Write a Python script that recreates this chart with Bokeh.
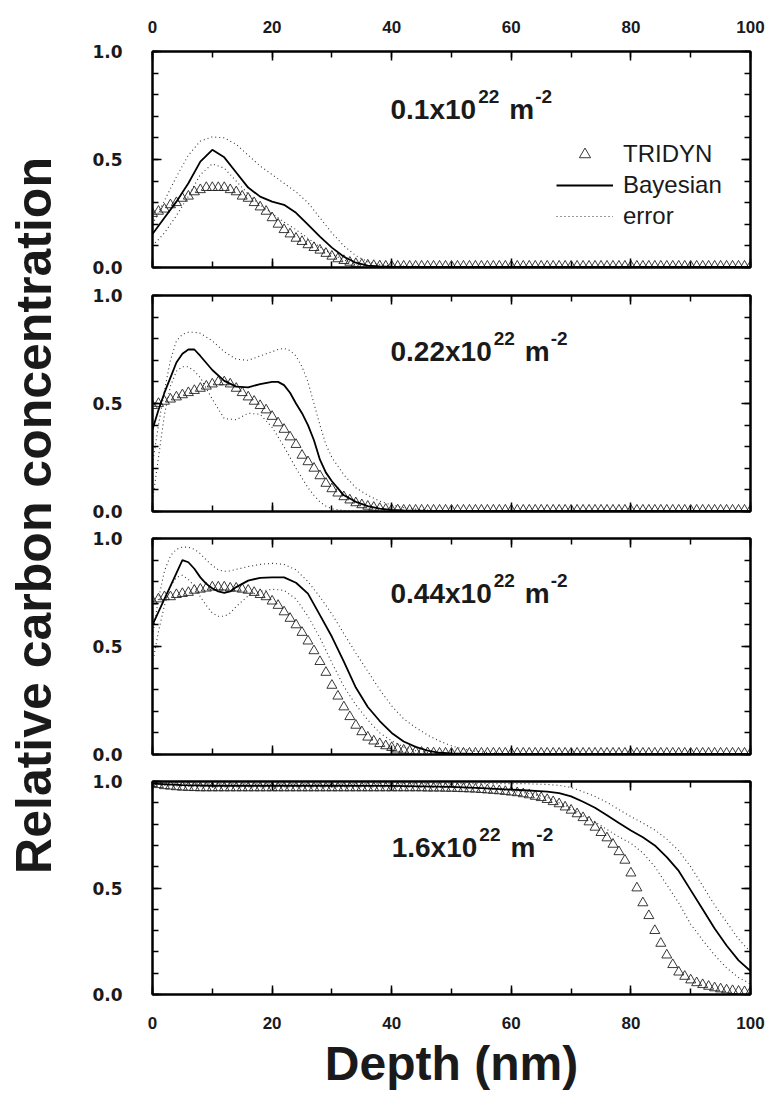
from math import pi
from bokeh.plotting import figure
from bokeh.layouts import row, column
from bokeh.models import (Range1d, LinearAxis, SingleIntervalTicker, PrintfTickFormatter,
                          Label, Legend, LegendItem)
from bokeh.embed import file_html
from bokeh.resources import INLINE

# ---------------- data ----------------
tridyn_depth = list(range(0, 101))  # nm

tridyn_01 = [0.25, 0.26, 0.27, 0.29, 0.30, 0.32, 0.33, 0.35, 0.36, 0.37,
             0.37, 0.37, 0.37, 0.36, 0.35, 0.33, 0.32, 0.30, 0.28, 0.26,
             0.23, 0.20, 0.175, 0.155, 0.135, 0.12, 0.105, 0.092, 0.08, 0.065,
             0.052, 0.040, 0.032, 0.024, 0.018, 0.014, 0.011, 0.009, 0.007, 0.006,
             0.006, 0.006, 0.006, 0.006, 0.006, 0.006, 0.006, 0.006, 0.006, 0.006,
             0.006, 0.006, 0.006, 0.006, 0.006, 0.006, 0.006, 0.006, 0.006, 0.006,
             0.006, 0.006, 0.006, 0.006, 0.006, 0.006, 0.006, 0.006, 0.006, 0.006,
             0.006, 0.006, 0.006, 0.006, 0.006, 0.006, 0.006, 0.006, 0.006, 0.006,
             0.006, 0.006, 0.006, 0.006, 0.006, 0.006, 0.006, 0.006, 0.006, 0.006,
             0.006, 0.006, 0.006, 0.006, 0.006, 0.006, 0.006, 0.006, 0.006, 0.006,
             0.006]

tridyn_02 = [0.49, 0.50, 0.51, 0.52, 0.53, 0.54, 0.55, 0.56, 0.57, 0.58,
             0.59, 0.60, 0.60, 0.59, 0.57, 0.55, 0.53, 0.51, 0.49, 0.47,
             0.44, 0.41, 0.38, 0.345, 0.31, 0.26, 0.23, 0.20, 0.165, 0.13,
             0.105, 0.085, 0.068, 0.053, 0.040, 0.031, 0.024, 0.019, 0.014, 0.010,
             0.008, 0.007, 0.006, 0.006, 0.006, 0.006, 0.006, 0.006, 0.006, 0.006,
             0.006, 0.006, 0.006, 0.006, 0.006, 0.006, 0.006, 0.006, 0.006, 0.006,
             0.006, 0.006, 0.006, 0.006, 0.006, 0.006, 0.006, 0.006, 0.006, 0.006,
             0.006, 0.006, 0.006, 0.006, 0.006, 0.006, 0.006, 0.006, 0.006, 0.006,
             0.006, 0.006, 0.006, 0.006, 0.006, 0.006, 0.006, 0.006, 0.006, 0.006,
             0.006, 0.006, 0.006, 0.006, 0.006, 0.006, 0.006, 0.006, 0.006, 0.006,
             0.006]

tridyn_03 = [0.71, 0.72, 0.73, 0.73, 0.74, 0.745, 0.75, 0.76, 0.765, 0.77,
             0.775, 0.775, 0.775, 0.77, 0.77, 0.765, 0.76, 0.75, 0.74, 0.73,
             0.71, 0.69, 0.66, 0.63, 0.60, 0.565, 0.525, 0.48, 0.43, 0.38,
             0.32, 0.27, 0.22, 0.175, 0.135, 0.105, 0.08, 0.062, 0.05, 0.04,
             0.032, 0.025, 0.02, 0.016, 0.013, 0.010, 0.008, 0.007, 0.006, 0.006,
             0.006, 0.006, 0.006, 0.006, 0.006, 0.006, 0.006, 0.006, 0.006, 0.006,
             0.006, 0.006, 0.006, 0.006, 0.006, 0.006, 0.006, 0.006, 0.006, 0.006,
             0.006, 0.006, 0.006, 0.006, 0.006, 0.006, 0.006, 0.006, 0.006, 0.006,
             0.006, 0.006, 0.006, 0.006, 0.006, 0.006, 0.006, 0.006, 0.006, 0.006,
             0.006, 0.006, 0.006, 0.006, 0.006, 0.006, 0.006, 0.006, 0.006, 0.006,
             0.006]

tridyn_04 = [0.99, 0.985, 0.98, 0.978, 0.975, 0.973, 0.972, 0.971, 0.97, 0.97,
             0.97, 0.97, 0.97, 0.97, 0.97, 0.97, 0.97, 0.97, 0.97, 0.97,
             0.97, 0.97, 0.97, 0.97, 0.97, 0.97, 0.97, 0.97, 0.97, 0.97,
             0.97, 0.97, 0.97, 0.97, 0.97, 0.97, 0.97, 0.97, 0.97, 0.97,
             0.97, 0.97, 0.97, 0.97, 0.97, 0.97, 0.969, 0.969, 0.969, 0.968,
             0.968, 0.967, 0.966, 0.965, 0.964, 0.962, 0.96, 0.958, 0.956, 0.953,
             0.95, 0.947, 0.942, 0.937, 0.93, 0.924, 0.915, 0.905, 0.895, 0.88,
             0.865, 0.848, 0.83, 0.81, 0.785, 0.76, 0.735, 0.705, 0.67, 0.63,
             0.57, 0.50, 0.43, 0.37, 0.30, 0.24, 0.185, 0.14, 0.105, 0.085,
             0.068, 0.055, 0.046, 0.038, 0.031, 0.026, 0.021, 0.018, 0.015, 0.013,
             0.012]

fit_depth_01 = [0, 2, 4, 6, 8, 10, 12, 14, 16, 18, 20, 22, 24, 26, 28, 30, 32, 34, 36, 38,
                40, 50, 60, 70, 80, 90, 100]
bayes_01 = [0.155, 0.23, 0.305, 0.39, 0.49, 0.545, 0.51, 0.44, 0.37, 0.328, 0.305, 0.29,
            0.253, 0.198, 0.143, 0.092, 0.05, 0.022, 0.009, 0.005, 0.003, 0.003, 0.003,
            0.003, 0.003, 0.003, 0.003]
upper_01 = [0.2, 0.31, 0.42, 0.52, 0.585, 0.605, 0.6, 0.57, 0.52, 0.47, 0.43, 0.39,
            0.35, 0.3, 0.23, 0.16, 0.1, 0.055, 0.027, 0.013, 0.007, 0.003, 0.003,
            0.003, 0.003, 0.003, 0.003]
lower_01 = [0.1, 0.16, 0.24, 0.33, 0.43, 0.48, 0.46, 0.40, 0.34, 0.29, 0.25, 0.21,
            0.175, 0.135, 0.095, 0.062, 0.035, 0.017, 0.008, 0.004, 0.002, 0.002, 0.002,
            0.002, 0.002, 0.002, 0.002]

fit_depth_02 = [0, 1, 2, 3, 4, 5, 6, 7, 8, 10, 12, 14, 16, 18, 20, 21, 22, 23, 24, 25,
                26, 27, 28, 29, 30, 32, 34, 36, 38, 40, 42, 44, 46, 48, 50, 60, 70, 80,
                90, 100]
bayes_02 = [0.38, 0.47, 0.55, 0.62, 0.69, 0.73, 0.75, 0.75, 0.72, 0.655, 0.605, 0.578,
            0.575, 0.59, 0.60, 0.60, 0.585, 0.55, 0.50, 0.455, 0.40, 0.33, 0.24, 0.18,
            0.14, 0.075, 0.045, 0.025, 0.013, 0.007, 0.005, 0.004, 0.003, 0.003, 0.003,
            0.003, 0.003, 0.003, 0.003, 0.003]
upper_02 = [0.22, 0.40, 0.56, 0.70, 0.79, 0.82, 0.83, 0.83, 0.825, 0.79, 0.74, 0.705,
            0.70, 0.72, 0.74, 0.75, 0.755, 0.745, 0.72, 0.67, 0.60, 0.50, 0.40, 0.31,
            0.25, 0.17, 0.11, 0.075, 0.048, 0.03, 0.018, 0.011, 0.007, 0.005, 0.004,
            0.004, 0.004, 0.004, 0.004, 0.004]
lower_02 = [0.05, 0.25, 0.45, 0.58, 0.65, 0.67, 0.67, 0.65, 0.62, 0.52, 0.43, 0.425,
            0.455, 0.45, 0.39, 0.345, 0.30, 0.25, 0.20, 0.155, 0.11, 0.075, 0.045, 0.025,
            0.012, 0.004, 0.002, 0.002, 0.002, 0.002, 0.002, 0.002, 0.002, 0.002, 0.002,
            0.002, 0.002, 0.002, 0.002, 0.002]

fit_depth_03 = [0, 1, 2, 3, 4, 5, 6, 7, 8, 9, 10, 11, 12, 13, 14, 16, 18, 20, 22, 24,
                26, 28, 30, 32, 34, 36, 38, 40, 42, 44, 46, 48, 50, 52, 54, 56, 58, 60,
                70, 80, 90, 100]
bayes_03 = [0.60, 0.66, 0.72, 0.78, 0.84, 0.90, 0.89, 0.86, 0.82, 0.79, 0.77, 0.755,
            0.748, 0.755, 0.775, 0.805, 0.818, 0.82, 0.82, 0.795, 0.745, 0.645, 0.545,
            0.43, 0.31, 0.22, 0.155, 0.10, 0.06, 0.035, 0.018, 0.008, 0.005, 0.004,
            0.003, 0.003, 0.003, 0.003, 0.003, 0.003, 0.003, 0.003]
upper_03 = [0.55, 0.72, 0.85, 0.92, 0.95, 0.96, 0.96, 0.95, 0.93, 0.90, 0.875, 0.855,
            0.848, 0.85, 0.857, 0.87, 0.88, 0.885, 0.88, 0.855, 0.80, 0.73, 0.65, 0.56,
            0.47, 0.385, 0.30, 0.225, 0.165, 0.125, 0.09, 0.062, 0.04, 0.025, 0.015,
            0.009, 0.006, 0.004, 0.004, 0.004, 0.004, 0.004]
lower_03 = [0.42, 0.57, 0.69, 0.78, 0.82, 0.83, 0.81, 0.78, 0.73, 0.69, 0.655, 0.64,
            0.64, 0.655, 0.685, 0.735, 0.755, 0.765, 0.76, 0.72, 0.64, 0.54, 0.425,
            0.315, 0.23, 0.16, 0.10, 0.063, 0.035, 0.018, 0.009, 0.005, 0.003, 0.003,
            0.003, 0.003, 0.003, 0.003, 0.003, 0.003, 0.003, 0.003]

fit_depth_04 = [0, 5, 10, 20, 30, 40, 50, 55, 60, 62, 64, 66, 68, 70, 72, 74, 76, 78,
                80, 82, 84, 86, 88, 90, 92, 94, 96, 98, 100]
bayes_04 = [0.99, 0.983, 0.98, 0.98, 0.98, 0.979, 0.975, 0.969, 0.962, 0.959, 0.956,
            0.952, 0.945, 0.93, 0.905, 0.877, 0.842, 0.805, 0.77, 0.738, 0.70, 0.645,
            0.58, 0.49, 0.40, 0.31, 0.23, 0.16, 0.11]
upper_04 = [0.995, 0.99, 0.99, 0.99, 0.99, 0.99, 0.99, 0.99, 0.99, 0.99, 0.988, 0.986,
            0.982, 0.972, 0.952, 0.93, 0.902, 0.868, 0.835, 0.805, 0.772, 0.73, 0.675,
            0.60, 0.51, 0.42, 0.34, 0.26, 0.20]
lower_04 = [0.985, 0.977, 0.975, 0.975, 0.975, 0.974, 0.972, 0.967, 0.955, 0.948, 0.938,
            0.925, 0.90, 0.875, 0.84, 0.81, 0.775, 0.74, 0.71, 0.665, 0.60, 0.515, 0.43,
            0.33, 0.255, 0.185, 0.125, 0.08, 0.05]

fluence_mantissa = ["0.1x10", "0.22x10", "0.44x10", "1.6x10"]
fluence_exponent = "22"
unit_base = "m"
unit_exponent = "-2"
legend_labels = ["TRIDYN", "Bayesian", "error"]
x_label = "Depth (nm)"
y_label = "Relative carbon concentration"

panels = [
    (tridyn_01, fit_depth_01, bayes_01, upper_01, lower_01),
    (tridyn_02, fit_depth_02, bayes_02, upper_02, lower_02),
    (tridyn_03, fit_depth_03, bayes_03, upper_03, lower_03),
    (tridyn_04, fit_depth_04, bayes_04, upper_04, lower_04),
]

# ---------------- layout / style ----------------
FONT = "Liberation Sans"
YTICK_FONT = "DejaVu Sans"
LAB_W = 76
PANEL_W = 690
BORDER_L, BORDER_R = 76, 16
FRAME_H = 216
heights = [281, 243, 243, 325]
borders_top = [51, 14, 14, 14]
TOTAL_H = sum(heights)
ann_pos = [(39.8, 0.731), (39.8, 0.740), (39.8, 0.745), (40.0, 0.69)]

BOLD_W = {'0': .556, '1': .556, '2': .556, '3': .556, '4': .556, '5': .556, '6': .556,
          '7': .556, '8': .556, '9': .556, '.': .278, 'x': .556, 'm': .889, '-': .333}


def tw(s, size):
    return sum(BOLD_W[c] for c in s) * size


def style_axis(ax, show_labels, is_x):
    ax.axis_line_width = 2
    ax.axis_line_color = "black"
    ax.major_tick_in = 9
    ax.major_tick_out = 0
    ax.minor_tick_in = 6
    ax.minor_tick_out = 0
    ax.major_tick_line_width = 1.5
    ax.minor_tick_line_width = 1.5
    ax.major_tick_line_color = "black"
    ax.minor_tick_line_color = "black"
    if is_x:
        ax.ticker = SingleIntervalTicker(interval=20, num_minor_ticks=2)
        ax.formatter = PrintfTickFormatter(format="%d")
        ax.major_label_text_font = FONT
    else:
        ax.ticker = SingleIntervalTicker(interval=0.5, num_minor_ticks=5)
        ax.formatter = PrintfTickFormatter(format="%.1f")
        ax.major_label_text_font = YTICK_FONT
    ax.major_label_text_font_size = "17px"
    ax.major_label_text_font_style = "bold"
    ax.major_label_text_color = "#1a1a1a"
    if not show_labels:
        ax.major_label_text_font_size = "1px"
        ax.major_label_text_alpha = 0
        ax.major_label_standoff = 0


figs = []
for i, (tri, fx, fb, fu, fl) in enumerate(panels):
    h = heights[i]
    bt = borders_top[i]
    bb = h - bt - FRAME_H
    p = figure(width=PANEL_W, height=h, x_range=Range1d(0, 100), y_range=Range1d(0, 1.0),
               toolbar_location=None, output_backend="svg",
               min_border_left=BORDER_L, min_border_right=BORDER_R,
               min_border_top=bt, min_border_bottom=bb,
               x_axis_location="below", y_axis_location="left")
    p.grid.visible = False
    p.outline_line_color = "black"
    p.outline_line_width = 2
    p.background_fill_color = "white"
    p.border_fill_color = "white"

    top_ax = LinearAxis()
    right_ax = LinearAxis()
    p.add_layout(top_ax, "above")
    p.add_layout(right_ax, "right")

    style_axis(p.below[0], i == 3, True)
    style_axis(top_ax, i == 0, True)
    style_axis(p.left[0], True, False)
    style_axis(right_ax, False, False)
    p.left[0].major_label_standoff = 30
    if i == 0:
        top_ax.major_label_standoff = 19
    if i == 3:
        ax = p.below[0]
        ax.major_label_standoff = 22
        ax.axis_label = x_label
        ax.axis_label_text_font = FONT
        ax.axis_label_text_font_size = "48px"
        ax.axis_label_text_font_style = "bold"
        ax.axis_label_text_color = "#1a1a1a"
        ax.axis_label_standoff = 5

    r_up = p.line(fx, fu, line_color="#333333", line_width=1.1, line_dash="1 3")
    r_lo = p.line(fx, fl, line_color="#333333", line_width=1.1, line_dash="1 3")
    r_tri = p.scatter(tridyn_depth, tri, marker="triangle", size=10, fill_color=None,
                      line_color="#222222", line_width=0.9)
    r_b = p.line(fx, fb, line_color="black", line_width=1.8)

    ax0, ay0 = ann_pos[i]
    mant = fluence_mantissa[i]
    off1 = tw(mant, 28) + 2
    off2 = off1 + tw(fluence_exponent, 19) + 10
    off3 = off2 + tw(unit_base, 28) + 1
    common = dict(x=ax0, y=ay0, text_font=FONT, text_font_style="bold",
                  text_color="#1a1a1a", text_baseline="alphabetic", text_align="left")
    p.add_layout(Label(text=mant, text_font_size="28px", **common))
    p.add_layout(Label(text=fluence_exponent, text_font_size="19px",
                       x_offset=off1, y_offset=13, **common))
    p.add_layout(Label(text=unit_base, text_font_size="28px", x_offset=off2, **common))
    p.add_layout(Label(text=unit_exponent, text_font_size="19px",
                       x_offset=off3, y_offset=13, **common))

    if i == 0:
        legend = Legend(items=[LegendItem(label=legend_labels[0], renderers=[r_tri]),
                               LegendItem(label=legend_labels[1], renderers=[r_b]),
                               LegendItem(label=legend_labels[2], renderers=[r_up])],
                        location=(404, 37))
        legend.background_fill_alpha = 0
        legend.border_line_alpha = 0
        legend.padding = 0
        legend.margin = 0
        legend.glyph_width = 57
        legend.glyph_height = 28
        legend.label_height = 28
        legend.spacing = 3
        legend.label_standoff = 10
        legend.label_text_font = FONT
        legend.label_text_font_size = "24px"
        legend.label_text_color = "#1a1a1a"
        p.add_layout(legend, "center")
    figs.append(p)

ylab = figure(width=LAB_W, height=TOTAL_H, x_range=Range1d(0, LAB_W),
              y_range=Range1d(0, TOTAL_H), min_border=0, toolbar_location=None,
              x_axis_location=None, y_axis_location=None, outline_line_color=None,
              output_backend="svg")
ylab.grid.visible = False
ylab.add_layout(Label(x=33, y=TOTAL_H - 515, text=y_label, angle=pi / 2, text_align="center",
                      text_baseline="middle", text_font=FONT, text_font_size="50px",
                      text_font_style="bold", text_color="#1a1a1a"))

layout = row(ylab, column(*figs))
open("out.html", "w").write(file_html(layout, INLINE))
